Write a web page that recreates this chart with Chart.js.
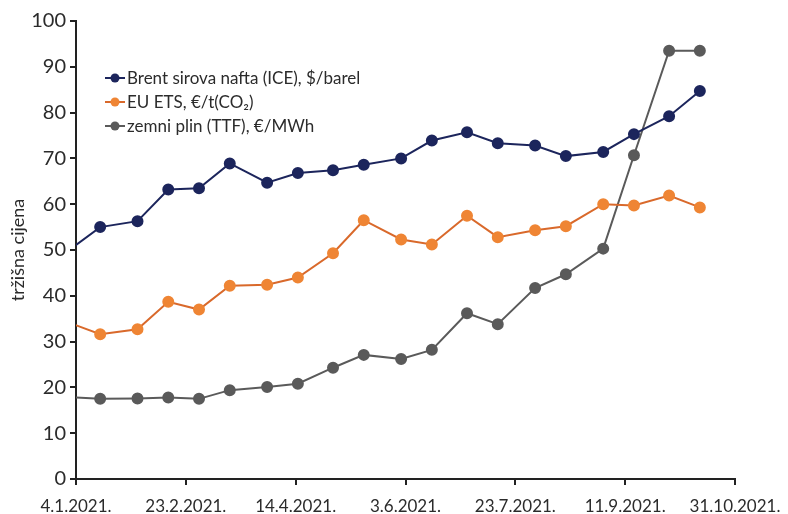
<!DOCTYPE html>
<html>
<head>
<meta charset="utf-8">
<script src="https://cdn.jsdelivr.net/npm/chart.js@4"></script>
<style>
  html, body { margin: 0; padding: 0; background: #fff; }
  #wrap { width: 788px; height: 514px; }
</style>
</head>
<body>
<div id="wrap"><canvas id="line-chart"></canvas></div>
<script>
// semimonthly observations
var dates = ["2021-01-01","2021-01-15","2021-02-01","2021-02-15","2021-03-01","2021-03-15",
  "2021-04-01","2021-04-15","2021-05-01","2021-05-15","2021-06-01","2021-06-15",
  "2021-07-01","2021-07-15","2021-08-01","2021-08-15","2021-09-01","2021-09-15",
  "2021-10-01","2021-10-15"];
var brent = [50.0,55.0,56.3,63.2,63.5,68.9,64.7,66.8,67.4,68.6,70.0,73.9,75.7,73.3,72.8,70.5,71.4,75.3,79.2,84.7];
var ets   = [34.1,31.6,32.7,38.7,37.0,42.2,42.4,44.0,49.3,56.5,52.3,51.2,57.5,52.8,54.3,55.2,60.0,59.7,61.9,59.3];
var ttf   = [17.9,17.5,17.6,17.8,17.5,19.4,20.1,20.8,24.3,27.1,26.2,28.2,36.2,33.8,41.7,44.7,50.3,70.7,93.5,93.5];
var seriesNames = ["Brent sirova nafta (ICE), $/barel", "EU ETS, \u20ac/t(CO\u2082)", "zemni plin (TTF), \u20ac/MWh"];
var axisStart = "2021-01-04";
var axisEnd = "2021-10-31";
var tickStepDays = 50;
var yTitle = "tržišna cijena";

var DAY = 86400000;
function dayOf(s) { return (Date.parse(s) - Date.parse(axisStart)) / DAY; }
function pts(vals) { return vals.map(function (v, i) { return { x: dayOf(dates[i]), y: v }; }); }

var fontFam = "Lato, 'DejaVu Sans', sans-serif";
var textCol = "#2b2b2b";

var legendInside = {
  id: 'legendInside',
  afterDraw: function (chart) {
    var ctx = chart.ctx, a = chart.chartArea;
    var x0 = a.left + 29, y0 = a.top + 57;
    ctx.save();
    ctx.font = "17px " + fontFam;
    ctx.textBaseline = "middle";
    chart.data.datasets.forEach(function (ds, i) {
      var y = y0 + i * 24;
      ctx.strokeStyle = ds.borderColor;
      ctx.lineWidth = 2;
      ctx.beginPath(); ctx.moveTo(x0, y); ctx.lineTo(x0 + 20, y); ctx.stroke();
      ctx.fillStyle = ds.pointBackgroundColor;
      ctx.beginPath(); ctx.arc(x0 + 10, y, 4.5, 0, Math.PI * 2); ctx.fill();
      ctx.fillStyle = textCol;
      ctx.fillText(ds.label, x0 + 22, y + 1);
    });
    ctx.restore();
  }
};

function mkSet(label, vals, line, dot) {
  return {
    label: label, data: pts(vals),
    borderColor: line, backgroundColor: dot,
    pointBackgroundColor: dot, pointBorderColor: dot,
    borderWidth: 2, pointRadius: 5, pointHoverRadius: 5, tension: 0,
    clip: { left: 0, top: false, right: false, bottom: false }
  };
}

new Chart(document.getElementById("line-chart"), {
  type: 'line',
  data: {
    datasets: [
      mkSet(seriesNames[0], brent, "#1c255c", "#1c255c"),
      mkSet(seriesNames[1], ets, "#d9692b", "#ef8534"),
      mkSet(seriesNames[2], ttf, "#5a5a5a", "#5a5a5a")
    ]
  },
  options: {
    responsive: true,
    maintainAspectRatio: false,
    animation: false,
    layout: { padding: { top: 21, right: 53, left: 5, bottom: 0 } },
    plugins: { legend: { display: false }, tooltip: { enabled: false } },
    scales: {
      x: {
        type: 'linear',
        min: 0, max: dayOf(axisEnd),
        afterFit: function (s) { s.height = 35; s.paddingLeft = 0; s.paddingRight = 0; },
        afterBuildTicks: function (s) {
          var t = [];
          for (var d = 0; d <= dayOf(axisEnd); d += tickStepDays) t.push({ value: d });
          s.ticks = t;
        },
        ticks: {
          font: { family: fontFam, size: 17 }, color: textCol, padding: 11, maxRotation: 0,
          callback: function (v) {
            var d = new Date(Date.parse(axisStart) + v * DAY);
            return d.getUTCDate() + "." + (d.getUTCMonth() + 1) + "." + d.getUTCFullYear() + ".";
          }
        },
        grid: { drawOnChartArea: false, drawTicks: true, tickLength: 6, color: "#222", lineWidth: 2 },
        border: { color: "#222", width: 2 }
      },
      y: {
        min: 0, max: 100,
        afterFit: function (s) { s.width = 71; s.paddingTop = 0; s.paddingBottom = 0; },
        ticks: { stepSize: 10, font: { family: fontFam, size: 20 }, color: textCol, padding: 4 },
        grid: { drawOnChartArea: false, drawTicks: true, tickLength: 6, color: "#222", lineWidth: 2 },
        border: { color: "#222", width: 2 },
        title: { display: true, text: yTitle, font: { family: fontFam, size: 18 }, color: textCol, padding: { top: 2, bottom: 0 } }
      }
    }
  },
  plugins: [legendInside]
});
</script>
</body>
</html>
